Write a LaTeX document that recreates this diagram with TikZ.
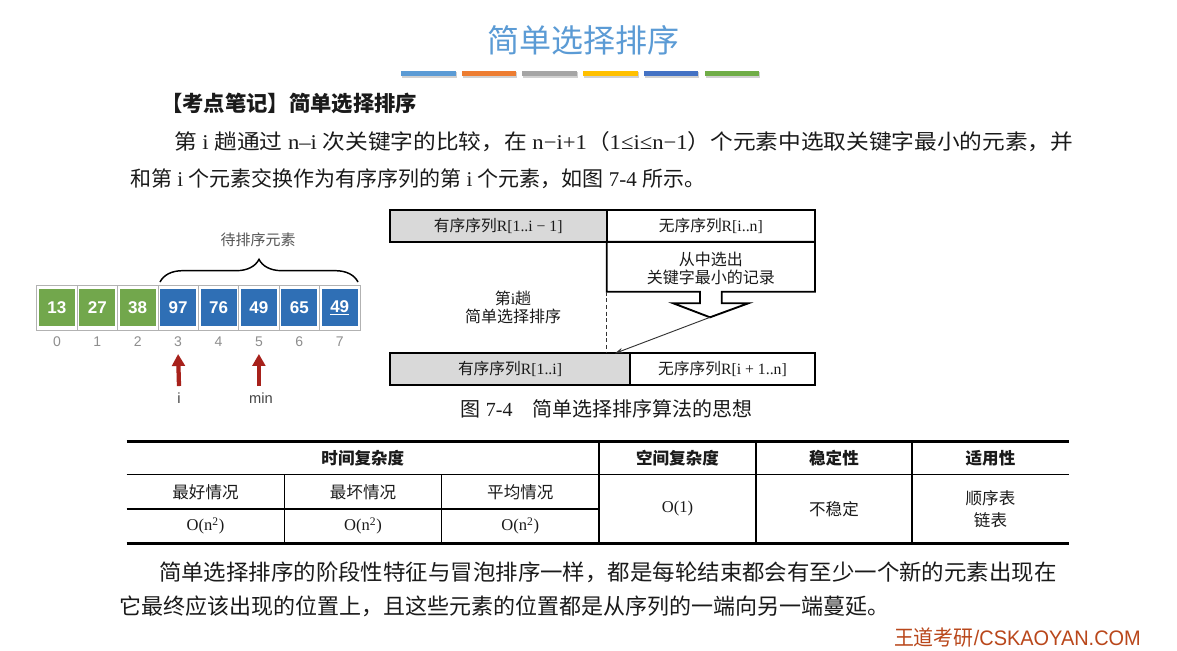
\documentclass[tikz,border=0pt]{standalone}
\usepackage{fontspec}
\setmainfont{Noto Sans CJK SC}
\newfontfamily\lat{Liberation Serif}
\newfontfamily\arial{Liberation Sans}
\usetikzlibrary{arrows.meta,decorations.pathreplacing,calc}
\definecolor{titleblue}{HTML}{5B9BD5}
\definecolor{barA}{HTML}{5B9BD5}
\definecolor{barB}{HTML}{ED7D31}
\definecolor{barC}{HTML}{A5A5A5}
\definecolor{barD}{HTML}{FFC000}
\definecolor{barE}{HTML}{4472C4}
\definecolor{barF}{HTML}{70AD47}
\definecolor{cgreen}{HTML}{72A74C}
\definecolor{cblue}{HTML}{2F6FB5}
\definecolor{arrred}{HTML}{A7211B}
\definecolor{idxgray}{HTML}{8E8E8E}
\definecolor{labgray}{HTML}{555555}
\definecolor{boxgray}{HTML}{D9D9D9}
\definecolor{wmcol}{HTML}{B9471B}
\definecolor{txt}{HTML}{1A1A1A}
\begin{document}
\begin{tikzpicture}[x=0.75pt,y=-0.75pt,
  every node/.style={inner sep=0pt,outer sep=0pt,text=txt},
  body/.style={anchor=base west,font=\fontsize{15.75pt}{15.75pt}\selectfont},
  body2/.style={anchor=base west,font=\fontsize{16.5pt}{16.5pt}\selectfont},
  cellframe/.style={draw=black!30,line width=0.6pt},
  cellbox/.style={minimum width=27pt,minimum height=28pt,text=white,
    font=\arial\bfseries\fontsize{12.75pt}{12.75pt}\selectfont},
  idxlbl/.style={text=idxgray,font=\arial\fontsize{10.5pt}{10.5pt}\selectfont},
  ptrlbl/.style={text=labgray!80!black,font=\arial\fontsize{11pt}{11pt}\selectfont},
  redarr/.style={draw=arrred,line width=3.2pt,-{Triangle[width=9.5pt,length=9pt]}},
  seqbox/.style={draw=black,line width=1.4pt,minimum height=23.8pt,
    font=\fontsize{11.8pt}{11.8pt}\selectfont},
  dtext/.style={align=center,font=\fontsize{12pt}{13.3pt}\selectfont},
  thinarr/.style={draw=black!80,line width=0.7pt,-{Stealth[length=6pt,width=4pt]}},
  dashline/.style={draw=black!80,line width=0.7pt,dash pattern=on 3pt off 2pt},
  thh/.style={font=\bfseries\fontsize{12.4pt}{12.4pt}\selectfont},
  tdd/.style={align=center,font=\fontsize{12.4pt}{17pt}\selectfont},
  thickrule/.style={line width=1.9pt},
  thinrule/.style={line width=0.8pt}]
\fill[white] (0,0) rectangle (1177,650);
\useasboundingbox (0,0) rectangle (1177,650);

% title and colour bars
\node[text=titleblue,font=\fontsize{24pt}{24pt}\selectfont] (title) at (583,40) {简单选择排序};
\foreach \c [count=\i from 0] in {barA,barB,barC,barD,barE,barF} {
  \fill[black!18] ({402+60.7*\i},72) rectangle ++(54.5,5.5);
  \fill[\c] ({401+60.7*\i},70.5) rectangle ++(54.5,5.5);
}

% heading and paragraph
\node[anchor=base west,font=\bfseries\fontsize{16pt}{16pt}\selectfont] (head) at (161,111.5) {【考点笔记】简单选择排序};
\node[body] (p1) at (174,149.5) {\scalebox{1.08}[1]{第{\lat\ i\ }趟通过{\lat\ n–i\ }次关键字的比较，在{\lat\ n−i+1}（{\lat 1≤i≤n−1}）个元素中选取关键字最小的元素，并}};
\node[body] (p2) at (130,186.5) {和第{\lat\ i\ }个元素交换作为有序序列的第{\lat\ i\ }个元素，如图{\lat\ 7-4\ }所示。};

% array
\foreach \v/\col [count=\k from 0] in {13/cgreen,27/cgreen,38/cgreen,97/cblue,76/cblue,49/cblue,65/cblue,\underline{49}/cblue} {
  \draw[cellframe] ({36.7+40.4*\k},285) rectangle ++(40.4,45);
  \node[cellbox,fill=\col] (c\k) at ({56.9+40.4*\k},307.5) {\v};
  \node[idxlbl] (n\k) at ({56.9+40.4*\k},341.7) {\k};
}
\draw[decorate,decoration={brace,amplitude=17pt},line width=1.1pt] (160,282) -- (358,282);
\node[text=labgray,font=\fontsize{11.25pt}{11.25pt}\selectfont] (pending) at (258,239.5) {待排序元素};
\node[ptrlbl] (li) at (179,398) {i};
\node[ptrlbl] (lmin) at (261,398) {min};
\draw[redarr] ([yshift=5pt]li.north) -- ([yshift=-5.5pt]n3.south);
\draw[redarr] ([yshift=5pt]lmin.north -| n5) -- ([yshift=-5.5pt]n5.south);

% right diagram
\node[seqbox,fill=boxgray,minimum width=162.5pt] (tl) at (498.3,225.8) {有序序列{\lat R[1..i − 1]}};
\node[seqbox,minimum width=156.2pt] (tr) at (710.8,225.8) {无序序列{\lat R[i..n]}};
\draw[line width=1.4pt,line join=miter] (606.7,241.7) -- (815,241.7) -- (815,291.7) -- (721.7,291.7) -- (721.7,303.3)
  -- (748.3,303.3) -- (710,317.3) -- (673.3,303.3) -- (700,303.3) -- (700,291.7) -- (606.7,291.7) -- cycle;
\coordinate (tip) at (710,317.3);
\node[dtext] (sel) at (710.8,268.5) {从中选出\\关键字最小的记录};
\node[dtext] (pass) at (513,307.5) {第{\lat i}趟\\简单选择排序};
\node[seqbox,fill=boxgray,minimum width=180pt] (bl) at (510,369.2) {有序序列{\lat R[1..i]}};
\node[seqbox,minimum width=138.75pt] (br) at (722.5,369.2) {无序序列{\lat R[i + 1..n]}};
\draw[dashline] ($(tr.south west)+(0,50)$) -- (tr.south west |- bl.north);
\draw[thinarr] (tip) -- ($(bl.north east)+(-15,0)$);
\node[font=\fontsize{15pt}{15pt}\selectfont] (cap) at (606.7,408.5) {图{\lat\ 7-4}\hspace{1em}简单选择排序算法的思想};

% table
\draw[thickrule] (126.7,441.5) -- (1069,441.5);
\draw[thickrule] (126.7,543.5) -- (1069,543.5);
\draw[thinrule] (126.7,474.5) -- (1069,474.5);
\draw[thinrule] (126.7,509) -- (599,509);
\foreach \xx in {599,756,912} \draw[thinrule] (\xx,441.5) -- (\xx,543.5);
\foreach \xx in {284.3,441.7} \draw[thinrule] (\xx,474.5) -- (\xx,543.5);
\node[thh] (h1) at (362.8,458.5) {时间复杂度};
\node[thh] (h2) at (677.5,458.5) {空间复杂度};
\node[thh] (h3) at (834,458.5) {稳定性};
\node[thh] (h4) at (990.5,458.5) {适用性};
\node[tdd] (b1) at (205.5,492) {最好情况};
\node[tdd] (b2) at (363,492) {最坏情况};
\node[tdd] (b3) at (520.3,492) {平均情况};
\node[tdd] (o1) at (205.5,526) {\lat O(n\textsuperscript{2})};
\node[tdd] (o2) at (363,526) {\lat O(n\textsuperscript{2})};
\node[tdd] (o3) at (520.3,526) {\lat O(n\textsuperscript{2})};
\node[tdd] (sp) at (677.5,509) {\lat O(1)};
\node[tdd] (st) at (834,509) {不稳定};
\node[tdd] (ap) at (990.5,509) {顺序表\\链表};

% closing paragraph
\node[body2] (q1) at (159,580) {\scalebox{1.02}[1]{简单选择排序的阶段性特征与冒泡排序一样，都是每轮结束都会有至少一个新的元素出现在}};
\node[body2] (q2) at (119,614) {它最终应该出现的位置上，且这些元素的位置都是从序列的一端向另一端蔓延。};

% watermark
\node[anchor=base west,text=wmcol,font=\arial\fontsize{15.75pt}{15.75pt}\selectfont] (wm) at (894,645) {\scalebox{0.95}[1]{{\rmfamily 王道考研}/CSKAOYAN.COM}};
\end{tikzpicture}
\end{document}
